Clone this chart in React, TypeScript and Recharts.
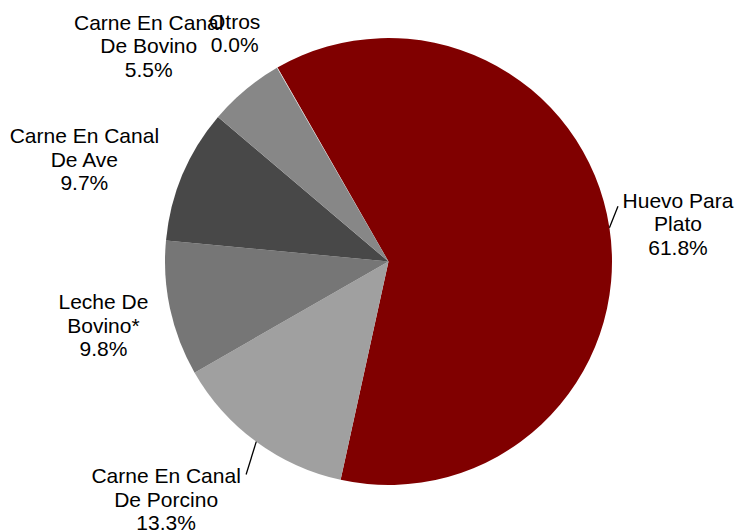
import React from "react";
import { PieChart, Pie, Cell } from "recharts";

const categories = [
  "Huevo Para\nPlato",
  "Carne En Canal\nDe Porcino",
  "Leche De\nBovino*",
  "Carne En Canal\nDe Ave",
  "Carne En Canal\nDe Bovino",
  "Otros",
];
const shares = [61.8, 13.3, 9.8, 9.7, 5.5, 0.04];
const colors = ["#800000", "#a0a0a0", "#767676", "#484848", "#878787", "#d0d0d0"];

// label placement relative to each slice's mid angle (Excel-like layout)
const labelLayout = [
  { r: 292, da: -1.2, leader: { dx: -60, dy: -17 } },
  { r: 325, da: -6.9, leader: { dx: 80, dy: -24 } },
  { r: 292, da: 0.3 },
  { r: 321, da: 4.2 },
  { r: 323, da: 8.1 },
  { r: 276, da: 4.0 },
];

const data = categories.map((name, i) => ({ name, value: shares[i] }));

const RAD = Math.PI / 180;
const LINE_H = 23.5;

function renderLabel(props: any) {
  const { cx, cy, midAngle, outerRadius, index, value } = props;
  const lay = labelLayout[index];
  const a = (midAngle + lay.da) * RAD;
  const lx = cx + lay.r * Math.cos(a);
  const ly = cy - lay.r * Math.sin(a);
  const lines = [...categories[index].split("\n"), `${value.toFixed(1)}%`];
  const top = ly - ((lines.length - 1) / 2) * LINE_H;
  let leader = null;
  if (lay.leader) {
    const sx = cx + outerRadius * Math.cos(midAngle * RAD);
    const sy = cy - outerRadius * Math.sin(midAngle * RAD);
    leader = (
      <line
        x1={sx}
        y1={sy}
        x2={lx + lay.leader.dx}
        y2={ly + lay.leader.dy}
        stroke="#000"
        strokeWidth={1.3}
      />
    );
  }
  return (
    <g key={`lbl-${index}`}>
      {leader}
      <text
        x={lx}
        y={top}
        textAnchor="middle"
        dominantBaseline="central"
        fill="#000"
        fontSize={21}
        fontFamily="'Liberation Sans', Arial, sans-serif"
      >
        {lines.map((t, k) => (
          <tspan key={k} x={lx} dy={k === 0 ? 0 : LINE_H}>
            {t}
          </tspan>
        ))}
      </text>
    </g>
  );
}

export default function App() {
  return (
    <div style={{ position: "absolute", left: 0, top: 0 }}>
      <PieChart width={736} height={531} margin={{ top: 0, right: 0, bottom: 0, left: 0 }}>
        <Pie
          data={data}
          dataKey="value"
          nameKey="name"
          cx={388.5}
          cy={261.5}
          outerRadius={223.5}
          startAngle={119.8}
          endAngle={-240.2}
          stroke="none"
          label={renderLabel}
          labelLine={false}
          isAnimationActive={false}
        >
          {data.map((d, i) => (
            <Cell key={d.name} fill={colors[i]} />
          ))}
        </Pie>
      </PieChart>
    </div>
  );
}
